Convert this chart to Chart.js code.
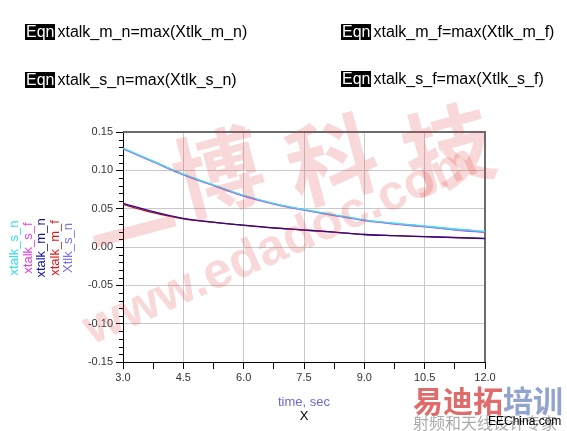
<!DOCTYPE html>
<html>
<head>
<meta charset="utf-8">
<script src="https://cdn.jsdelivr.net/npm/chart.js@4.4.1/dist/chart.umd.min.js"></script>
<style>
  html, body { margin: 0; padding: 0; background: #fff; }
  #wrap { position: relative; width: 567px; height: 431px; overflow: hidden; }
  canvas { position: absolute; left: 0; top: 0; }
  .eqn { position: absolute; font: 16px "Liberation Sans", Arial, sans-serif; color: #000; white-space: nowrap; line-height: 16px; }
  .eqn b { font-weight: normal; background: #000; color: #fff; padding: 0 1px; margin-right: 2px; display: inline-block; height: 16px; }
</style>
</head>
<body>
<div id="wrap">
  <canvas id="chart" width="567" height="431"></canvas>
  <div class="eqn" style="left:25px; top:24px;"><b>Eqn</b>xtalk_m_n=max(Xtlk_m_n)</div>
  <div class="eqn" style="left:341px; top:24px;"><b>Eqn</b>xtalk_m_f=max(Xtlk_m_f)</div>
  <div class="eqn" style="left:25px; top:72px;"><b>Eqn</b>xtalk_s_n=max(Xtlk_s_n)</div>
  <div class="eqn" style="left:341px; top:71px;"><b>Eqn</b>xtalk_s_f=max(Xtlk_s_f)</div>
</div>
<script>
// time, sec
const timeVals = [3.0, 3.75, 4.5, 5.25, 6.0, 6.75, 7.5, 8.25, 9.0, 9.75, 10.5, 11.25, 12.0];

const xtalkSN = [0.129, 0.112, 0.095, 0.081, 0.0675, 0.057, 0.049, 0.042, 0.0355, 0.031, 0.0274, 0.0235, 0.0205];
const xtalkSF = [0.128, 0.111, 0.094, 0.080, 0.0665, 0.056, 0.048, 0.041, 0.0345, 0.030, 0.0262, 0.0222, 0.019];
const xtlkSN  = [0.1285, 0.1115, 0.0945, 0.0805, 0.067, 0.0565, 0.0485, 0.0415, 0.035, 0.0305, 0.0268, 0.0228, 0.0198];
const xtalkMN = [0.057, 0.046, 0.0374, 0.0325, 0.0285, 0.025, 0.0222, 0.0195, 0.0163, 0.0148, 0.0135, 0.0122, 0.011];
const xtalkMF = [0.0555, 0.0448, 0.0368, 0.0322, 0.0283, 0.0248, 0.0221, 0.0194, 0.0163, 0.0148, 0.0136, 0.0124, 0.0113];

const legendNames  = ["xtalk_s_n", "xtalk_s_f", "xtalk_m_n", "xtalk_m_f", "Xtlk_s_n"];
const legendColors = ["#33e0e6", "#e040e0", "#14149a", "#e01818", "#7a6ee0"];

const xMin = 3.0, xMax = 12.0, xStep = 0.75;
const yMin = -0.15, yMax = 0.15;

const toPoints = (ys) => timeVals.map((t, i) => ({ x: t, y: ys[i] }));

function line(label, ys, color, order) {
  return {
    label: label,
    data: toPoints(ys),
    borderColor: color,
    borderWidth: 1.3,
    pointRadius: 0,
    fill: false,
    cubicInterpolationMode: "monotone",
    order: order,
  };
}

const isMajorX = (v) => Math.round(v / xStep) % 2 === 0;

// watermark + rotated legend + axis captions
const decorPlugin = {
  id: "decor",
  beforeDatasetsDraw(chart) {
    const { ctx, chartArea } = chart;
    const ys = chart.scales.y;
    ctx.save();
    // minor y ticks, shorter than the major ones
    ctx.strokeStyle = "#000";
    ctx.lineWidth = 1;
    for (let i = -15; i <= 15; i++) {
      if (i % 5 === 0) continue;
      const py = Math.round(ys.getPixelForValue(i / 100)) + 0.5;
      ctx.beginPath();
      ctx.moveTo(chartArea.left - 4, py);
      ctx.lineTo(chartArea.left, py);
      ctx.stroke();
    }
    // top & right frame
    ctx.strokeStyle = "#6c6c6c";
    ctx.lineWidth = 2;
    ctx.beginPath();
    ctx.moveTo(chartArea.left, chartArea.top);
    ctx.lineTo(chartArea.right, chartArea.top);
    ctx.lineTo(chartArea.right, chartArea.bottom);
    ctx.stroke();
    ctx.restore();
  },
  afterDraw(chart) {
    const { ctx, chartArea } = chart;
    ctx.save();

    // legend, rotated text on the left
    ctx.font = '13px "Liberation Sans", Arial, sans-serif';
    ctx.textAlign = "center";
    ctx.textBaseline = "middle";
    const cols = [14.5, 28, 41.5, 55, 68.5];
    legendNames.forEach((name, i) => {
      ctx.save();
      ctx.translate(cols[i], 248);
      ctx.rotate(-Math.PI / 2);
      ctx.fillStyle = legendColors[i];
      ctx.fillText(name, 0, 0);
      ctx.restore();
    });

    // axis captions
    const cx = (chartArea.left + chartArea.right) / 2;
    ctx.fillStyle = "#6a6ad6";
    ctx.fillText("time, sec", cx, 402);
    ctx.fillStyle = "#000";
    ctx.fillText("X", cx, 416);

    // watermark
    ctx.fillStyle = "rgba(220, 60, 60, 0.20)";
    ctx.font = 'bold 90px "Noto Sans CJK SC", sans-serif';
    const wm = [["一", 135, 232], ["博", 218, 172], ["科", 332, 160], ["技", 448, 148]];
    wm.forEach(([ch, x, y]) => {
      ctx.save();
      ctx.translate(x, y);
      ctx.rotate(-0.26);
      ctx.fillText(ch, 0, 0);
      ctx.restore();
    });
    ctx.save();
    ctx.translate(92, 345);
    ctx.rotate(-0.42);
    ctx.textAlign = "left";
    ctx.textBaseline = "alphabetic";
    ctx.font = 'bold 50px "Liberation Sans", Arial, sans-serif';
    const url = "www.edadoc.com";
    const w = ctx.measureText(url).width;
    ctx.scale(425 / w, 1);
    ctx.fillText(url, 0, 0);
    ctx.restore();

    // bottom-right logo
    ctx.textAlign = "left";
    ctx.textBaseline = "alphabetic";
    ctx.font = 'bold 30px "Noto Sans CJK SC", sans-serif';
    ctx.fillStyle = "rgba(215, 70, 70, 0.80)";
    ctx.fillText("易迪拓", 413, 412);
    ctx.fillStyle = "rgba(120, 140, 195, 0.80)";
    ctx.fillText("培训", 503, 412);
    ctx.font = '16px "Noto Sans CJK SC", sans-serif';
    ctx.fillStyle = "#ababab";
    ctx.fillText("射频和天线设计专家", 413, 429);
    ctx.font = '12px "Liberation Sans", Arial, sans-serif';
    ctx.fillStyle = "#000";
    ctx.fillText("EEChina.com", 488, 425);

    ctx.restore();
  },
};

const chart = new Chart(document.getElementById("chart"), {
  type: "line",
  data: {
    datasets: [
      line("xtalk_m_n", xtalkMN, "#2a0a88", 1),
      line("xtalk_m_f", xtalkMF, "#c01020", 2),
      line("xtalk_s_n", xtalkSN, "#40dcf0", 3),
      line("Xtlk_s_n", xtlkSN, "#8c78e8", 4),
      line("xtalk_s_f", xtalkSF, "#d848d8", 5),
    ],
  },
  options: {
    responsive: false,
    animation: false,
    events: [],
    layout: { padding: { top: 132, right: 82, left: 0, bottom: 0 } },
    plugins: {
      legend: { display: false },
      tooltip: { enabled: false },
    },
    scales: {
      x: {
        type: "linear",
        min: xMin,
        max: xMax,
        afterBuildTicks(scale) {
          const ticks = [];
          for (let i = 0; i <= 12; i++) ticks.push({ value: xMin + i * xStep });
          scale.ticks = ticks;
        },
        afterFit(scale) { scale.height = 69; },
        border: { color: "#000", width: 1 },
        grid: {
          color: (c) => (c.tick && isMajorX(c.tick.value) ? "#c9c9c9" : "rgba(0,0,0,0)"),
          tickColor: "#000",
          tickLength: 7,
        },
        ticks: {
          autoSkip: false,
          maxRotation: 0,
          padding: 2,
          color: "#333",
          font: { family: '"Liberation Sans", Arial, sans-serif', size: 11 },
          callback: (v) => (isMajorX(v) ? v.toFixed(1) : ""),
        },
      },
      y: {
        type: "linear",
        min: yMin,
        max: yMax,
        afterBuildTicks(scale) {
          const ticks = [];
          for (let i = -15; i <= 15; i += 5) ticks.push({ value: i / 100 });
          scale.ticks = ticks;
        },
        afterFit(scale) { scale.width = 123; },
        border: { color: "#000", width: 1 },
        grid: {
          color: "#c9c9c9",
          tickColor: "#000",
          tickLength: 7,
        },
        ticks: {
          autoSkip: false,
          padding: 3,
          color: "#333",
          font: { family: '"Liberation Sans", Arial, sans-serif', size: 11 },
          callback: (v) => (Math.abs(v) < 1e-9 ? "0.00" : v.toFixed(2)),
        },
      },
    },
  },
  plugins: [decorPlugin],
});
</script>
</body>
</html>
